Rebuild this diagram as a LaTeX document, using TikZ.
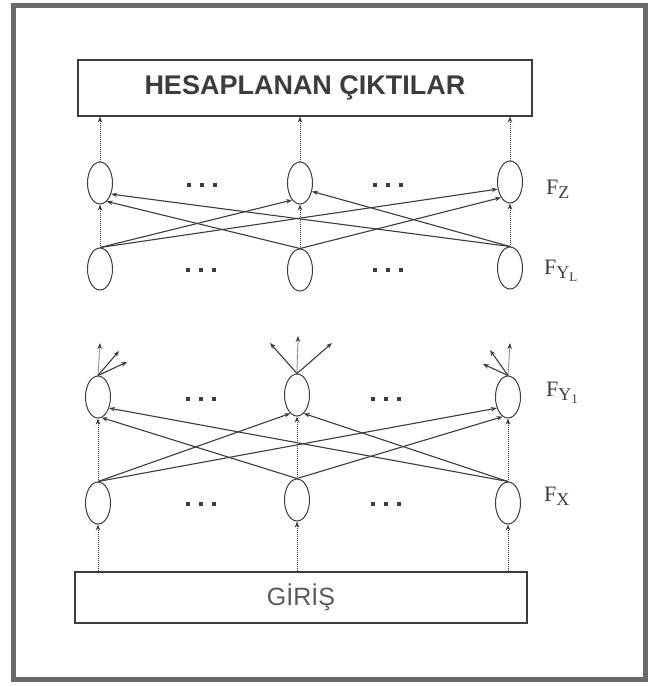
\documentclass[tikz,border=0pt]{standalone}
\usepackage{fontspec}
\setmainfont{Liberation Serif}
\newfontfamily\boxfont{Liberation Sans}
\usetikzlibrary{shapes.geometric,arrows.meta}
\definecolor{ink}{RGB}{60,60,60}
\definecolor{frame}{RGB}{105,105,105}
\tikzset{
  neuron/.style={draw=ink, line width=1pt, ellipse, minimum width=25pt, minimum height=42pt, inner sep=0pt},
  labelbox/.style={draw=ink, line width=1.1pt, inner sep=0pt},
  link/.style={draw=ink, line width=1.1pt, -{Stealth[length=6pt,width=4.5pt]}},
  vlink/.style={draw=ink, line width=1pt, densely dotted, -{Stealth[length=6pt,width=4.5pt]}},
  flabel/.style={anchor=base west, inner sep=0pt, font=\fontsize{22}{22}\selectfont, text=ink},
  dotmark/.style={fill=ink, draw=none, rectangle, minimum size=3.6pt, inner sep=0pt}
}
\newcommand{\threedots}[3]{%
  \node[dotmark] (#3a) at (#1-13,#2) {};
  \node[dotmark] (#3b) at (#1,#2) {};
  \node[dotmark] (#3c) at (#1+13,#2) {};}
\begin{document}
\begin{tikzpicture}[x=1pt,y=-1pt]
\useasboundingbox (0,0) rectangle (651,686);
\fill[white] (0,0) rectangle (651,686);
\draw[frame, line width=5pt] (13,5) rectangle (645,679);

% boxes
\node[labelbox, minimum width=454pt, minimum height=56pt] (out) at (305,88)
  {\boxfont\bfseries\fontsize{27}{27}\selectfont\color{ink}HESAPLANAN ÇIKTILAR};
\node[labelbox, minimum width=452pt, minimum height=51pt] (in) at (301,597.5)
  {\boxfont\fontsize{25}{25}\selectfont\color{ink!85}GİRİŞ};

% upper half
\node[neuron] (z1) at (100,183) {};
\node[neuron] (z2) at (300,183) {};
\node[neuron] (z3) at (510,182) {};
\node[neuron] (y1) at (100,269) {};
\node[neuron] (y2) at (300,270) {};
\node[neuron] (y3) at (510,268) {};

% lower half
\node[neuron] (h1) at (98,397) {};
\node[neuron] (h2) at (297,395) {};
\node[neuron] (h3) at (508,397) {};
\node[neuron] (x1) at (98,503) {};
\node[neuron] (x2) at (297,500) {};
\node[neuron] (x3) at (508,503) {};

% dots
\threedots{202}{185}{da}
\threedots{388}{185}{db}
\threedots{201}{270}{dc}
\threedots{388}{270}{dd}
\threedots{201}{399}{de}
\threedots{386}{399}{df}
\threedots{201}{504}{dg}
\threedots{386}{504}{dh}

% labels
\node[flabel] (lz) at (546,194) {F\raisebox{-0.45ex}{\fontsize{18}{18}\selectfont Z}};
\node[flabel] (ly) at (544,274) {F\raisebox{-0.45ex}{\fontsize{18}{18}\selectfont Y\raisebox{-0.4ex}{\fontsize{13}{13}\selectfont L}}};
\node[flabel] (lh) at (546,396) {F\raisebox{-0.45ex}{\fontsize{18}{18}\selectfont Y\raisebox{-0.4ex}{\fontsize{13}{13}\selectfont 1}}};
\node[flabel] (lx) at (544,501) {F\raisebox{-0.45ex}{\fontsize{18}{18}\selectfont X}};

% outputs to top box
\foreach \n in {z1,z2,z3} \draw[vlink] (\n.north) -- (\n.north |- out.south);

% upper cross links
\draw[link] (y1.north) -- (z2.-115);
\draw[link] (y1.north) -- (z3.-150);
\draw[link] (y2.north) -- (z3.-120);
\draw[link] (y2.north) -- (z1.-70);
\draw[link] (y3.north) -- (z1.-45);
\draw[link] (y3.north) -- (z2.-35);
\foreach \a/\b in {y1/z1,y2/z2,y3/z3} \draw[vlink] (\a.north) -- (\b.south);

% lower cross links
\draw[link] (x1.north) -- (h2.-110);
\draw[link] (x1.north) -- (h3.-135);
\draw[link] (x2.north) -- (h3.-105);
\draw[link] (x2.north) -- (h1.-80);
\draw[link] (x3.north) -- (h1.-45);
\draw[link] (x3.north) -- (h2.-70);
\foreach \a/\b in {x1/h1,x2/h2,x3/h3} \draw[vlink] (\a.north) -- (\b.south);

% input box to FX
\foreach \n in {x1,x2,x3} \draw[vlink] (\n.south |- in.north) -- (\n.south);

% outgoing arrows above FY1
\coordinate (o1a) at (100,343);
\coordinate (o1b) at (127,362);
\coordinate (o1c) at (119,351);
\coordinate (o2a) at (270,343);
\coordinate (o2b) at (298,336);
\coordinate (o2c) at (332,343);
\coordinate (o3a) at (510,343);
\coordinate (o3b) at (490,350);
\coordinate (o3c) at (483,364);
\draw[vlink] (h1.north) -- (o1a);
\draw[link] (h1.north) -- (o1b);
\draw[link] (h1.north) -- (o1c);
\draw[link] (h2.north) -- (o2a);
\draw[vlink] (h2.north) -- (o2b);
\draw[link] (h2.north) -- (o2c);
\draw[vlink] (h3.north) -- (o3a);
\draw[link] (h3.north) -- (o3b);
\draw[link] (h3.north) -- (o3c);
\end{tikzpicture}
\end{document}
